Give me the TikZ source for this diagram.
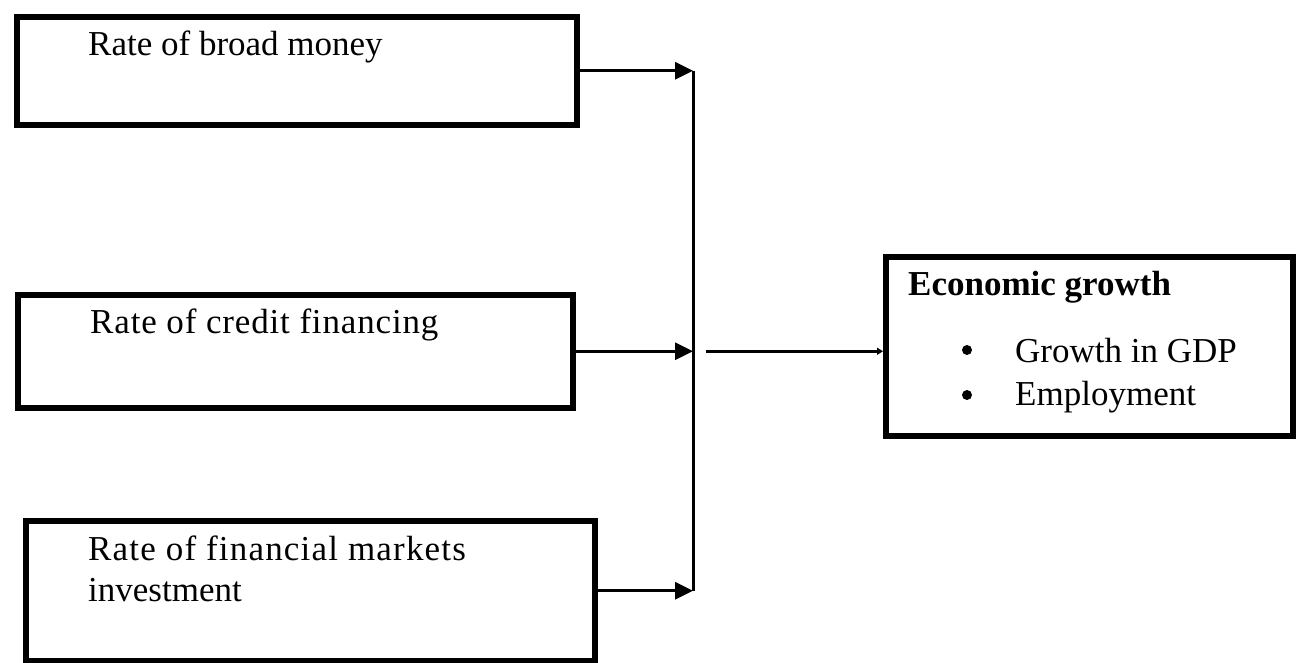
\documentclass[tikz,border=0pt]{standalone}
\usepackage{fontspec}
\setmainfont{Liberation Serif}
\usetikzlibrary{arrows.meta}
\tikzset{
  boxnode/.style={draw=black, line width=5.5pt, rectangle, inner sep=0pt, anchor=north west},
  lbl/.style={anchor=base west, inner sep=0pt, font=\fontsize{35}{42}\selectfont},
  arr/.style={line width=3pt, -{Triangle[length=18pt,width=17pt]}},
  smallarr/.style={line width=3.2pt, -{Triangle[length=6pt,width=7pt]}},
  plain/.style={line width=3pt},
  dotb/.style={circle, fill=black, inner sep=0pt, minimum size=10pt}
}
\begin{document}
\begin{tikzpicture}[x=1pt,y=-1pt]
\useasboundingbox (0,0) rectangle (1298,662);
% boxes
\node[boxnode, minimum width=560pt, minimum height=108pt] (b1) at (14,14) {};
\node[boxnode, minimum width=555pt, minimum height=113pt] (b2) at (15,292) {};
\node[boxnode, minimum width=569pt, minimum height=140pt] (b3) at (23,518) {};
\node[boxnode, minimum width=407pt, minimum height=179pt] (eg) at (883,254) {};
% texts
\node[lbl] (t1) at (88,55) {Rate of broad money};
\node[lbl] (t2) at (90,333) {\addfontfeature{LetterSpace=2.4}Rate of credit financing};
\node[lbl] (t3a) at (88,560) {\addfontfeature{LetterSpace=3.4}Rate of financial markets};
\node[lbl] (t3b) at (88,601) {investment};
\node[lbl, font=\fontsize{35}{42}\selectfont\bfseries] (t4) at (908,295) {Economic growth};
\node[dotb] (d1) at (967,350) {};
\node[dotb] (d2) at (967,395) {};
\node[lbl] (t5) at (1015,362) {Growth in GDP};
\node[lbl] (t6) at (1015,405) {Employment};
% junction coordinates
\coordinate (vx) at (693,0);
\coordinate (mx) at (706,0);
\coordinate (j1) at (b1.east -| vx);
\coordinate (j2) at (b2.east -| vx);
\coordinate (j3) at (b3.east -| vx);
\coordinate (m) at (b2.east -| mx);
% connectors
\draw[arr] (b1.east) -- (j1);
\draw[arr] (b2.east) -- (j2);
\draw[arr] (b3.east) -- (j3);
\draw[plain] (j1) -- (j3);
\draw[smallarr] (m) -- (eg.west |- m);
\end{tikzpicture}
\end{document}
